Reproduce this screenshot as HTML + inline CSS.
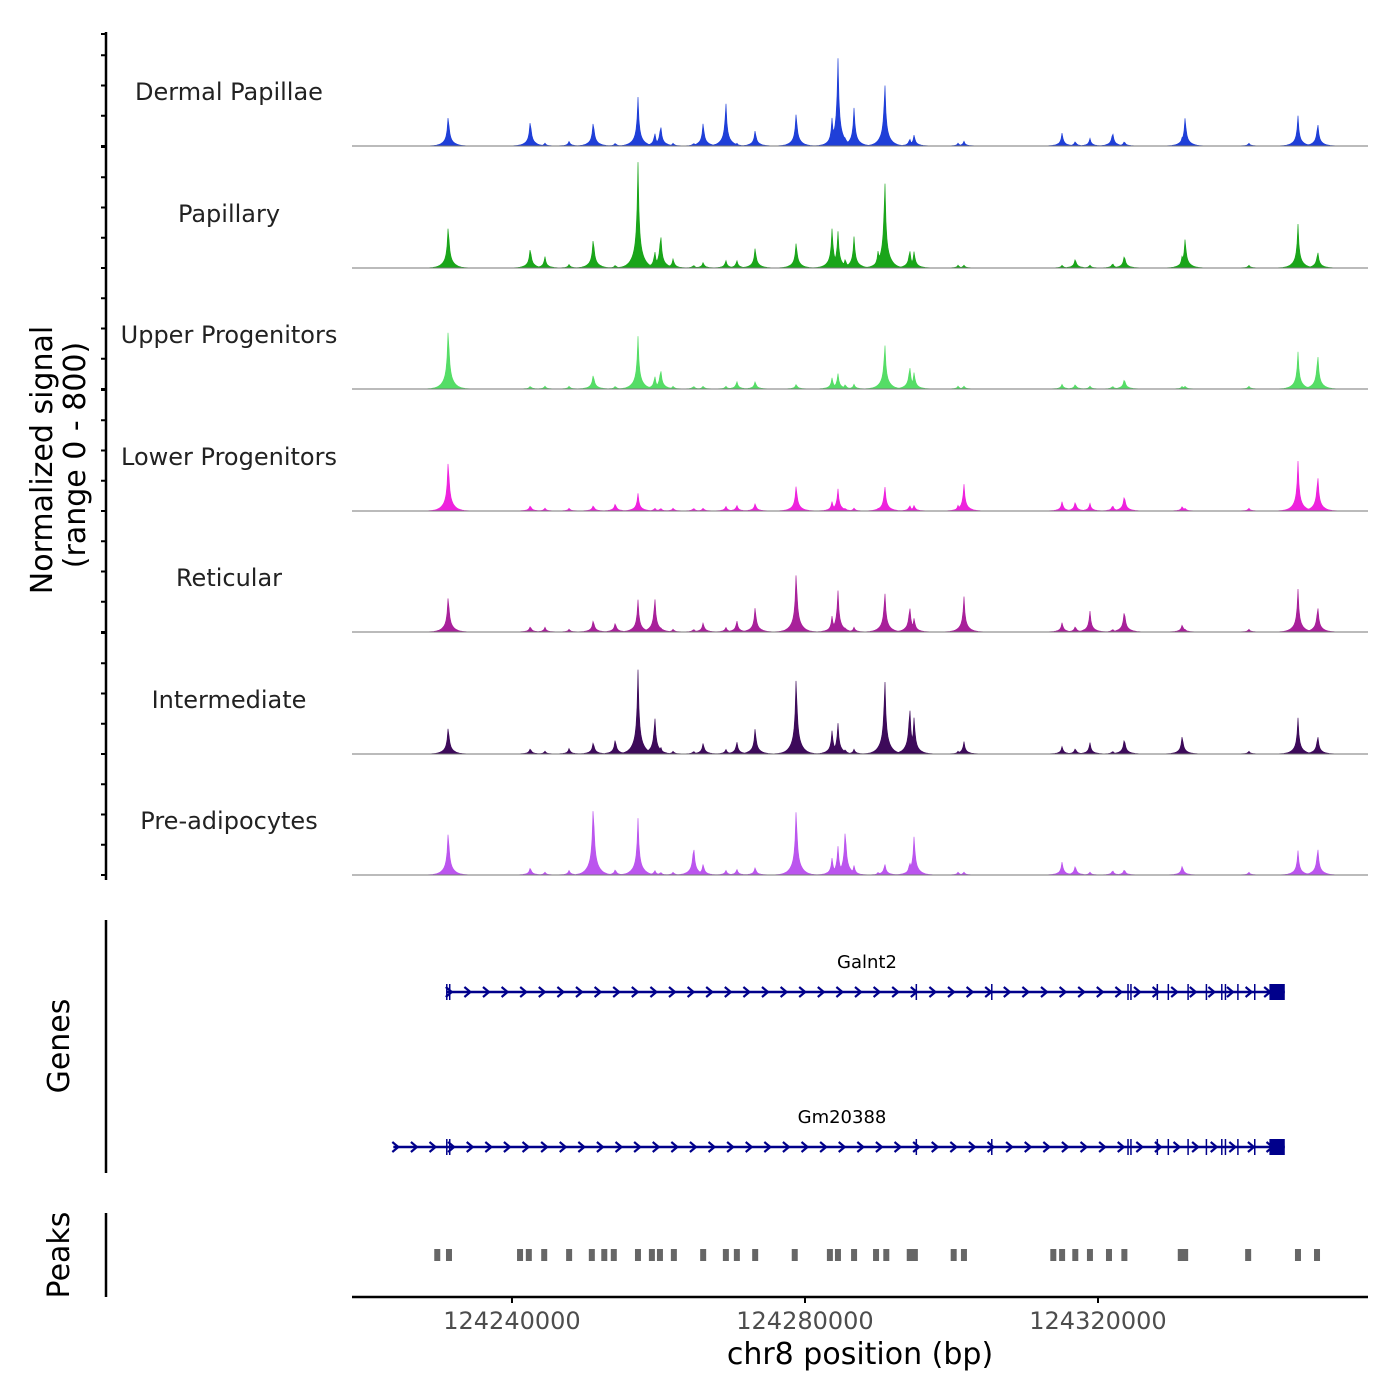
<!DOCTYPE html>
<html><head><meta charset="utf-8">
<style>
html,body{margin:0;padding:0;background:#fff;}
svg{display:block;font-family:"DejaVu Sans","Liberation Sans",sans-serif;}
</style></head>
<body>
<svg id="chart" width="1400" height="1400" viewBox="0 0 1400 1400" xmlns="http://www.w3.org/2000/svg">
<rect width="1400" height="1400" fill="#fff"/>
<g id="tracks"></g>
<g id="yaxis"></g>
<g id="genes"></g>
<g id="peaks"></g>
<g id="xaxis"></g>
<text transform="translate(52,460) rotate(-90)" text-anchor="middle" font-size="30" fill="#000">Normalized signal</text>
<text transform="translate(85,455) rotate(-90)" text-anchor="middle" font-size="30" fill="#000">(range 0 - 800)</text>
<text transform="translate(69,1046) rotate(-90)" text-anchor="middle" font-size="30" fill="#000">Genes</text>
<text transform="translate(69,1255) rotate(-90)" text-anchor="middle" font-size="30" fill="#000">Peaks</text>
<text x="860" y="1364" text-anchor="middle" font-size="30" fill="#000">chr8 position (bp)</text>
</svg>
<script>
// ---- data (positions in kb) ----
const trackNames = ["Dermal Papillae","Papillary","Upper Progenitors","Lower Progenitors","Reticular","Intermediate","Pre-adipocytes"];
const trackColors = ["#1f3fd8","#1aa51a","#55dd66","#ee22dd","#a8209a","#3d0a5a","#bb55ee"];
const peakPos = [124231.3,124242.5,124244.5,124247.8,124251.1,124254.1,124257.2,124259.5,124260.3,124262.0,124264.8,124266.1,124269.2,124270.7,124273.2,124278.8,124283.7,124284.5,124285.5,124286.7,124290.0,124290.9,124294.3,124294.9,124300.9,124301.7,124315.1,124316.9,124318.9,124322.0,124323.6,124331.5,124331.9,124340.6,124347.3,124350.0];
const sigDermal = [220,185,20,33,178,20,330,92,152,20,20,165,304,20,112,238,198,600,66,264,33,449,53,79,20,33,92,33,53,99,33,66,205,20,205,165];
const sigPapillary = [310,145,79,26,218,20,713,119,251,66,20,40,53,53,145,185,277,251,66,218,132,627,132,119,20,20,20,66,20,33,92,92,211,20,297,119];
const sigUpper = [442,20,20,20,106,20,356,92,145,20,20,20,20,53,53,33,79,106,33,33,33,323,165,119,20,20,33,33,20,20,73,20,20,20,251,251];
const sigLower = [370,40,20,20,40,53,119,20,20,20,20,20,33,40,53,185,66,152,20,20,20,178,40,40,40,185,66,66,53,40,112,33,20,20,337,257];
const sigReticular = [264,40,33,20,86,66,218,244,33,20,20,66,33,79,178,429,112,284,33,33,20,284,185,99,20,244,66,40,145,20,158,53,20,20,290,185];
const sigIntermediate = [198,40,20,40,86,106,568,264,53,20,20,79,33,86,185,554,165,211,33,33,20,535,343,264,20,86,53,40,79,20,112,132,20,20,244,132];
const sigPreadipo = [317,53,20,33,515,40,383,33,20,20,211,79,33,40,53,475,119,198,330,66,20,79,92,277,20,20,92,66,20,33,40,66,20,20,165,198];
const signals = [sigDermal,sigPapillary,sigUpper,sigLower,sigReticular,sigIntermediate,sigPreadipo];
const peakRegions = [124229.8,124231.4,124241.1,124242.3,124244.4,124247.8,124250.9,124252.6,124253.9,124257.2,124259.1,124260.2,124262.1,124266.1,124269.2,124270.7,124273.2,124278.6,124283.4,124284.5,124286.7,124289.7,124291.1,124294.3,124295.0,124300.3,124301.7,124313.9,124315.1,124316.9,124318.9,124321.5,124323.6,124331.3,124331.9,124340.5,124347.3,124349.9];
const geneNames = ["Galnt2","Gm20388"];
const geneStarts = [124231.1,124223.8];
const geneEnds = [124345.5,124345.5];
const exonPos = [124231.1,124231.5,124295.2,124305.5,124324.1,124324.5,124328.1,124329.6,124332.3,124334.8,124336.9,124337.4,124339.1,124341.4];
const xTicks = [124240,124280,124320];
const xTickLabels = ["124240000","124280000","124320000"];
const yTicks = [0,200,400,600,800];

// ---- scales ----
const NS="http://www.w3.org/2000/svg";
const X0=352,X1=1368,D0=124218.16,D1=124356.86;
const xs = v => X0+(v-D0)/(D1-D0)*(X1-X0);
const baselines=[146,268,389,511,632,754,875];
const TH=121;
const ys = (v,i) => baselines[i]-v/800*TH;
function el(tag,attrs,parent){const e=document.createElementNS(NS,tag);for(const k in attrs)e.setAttribute(k,attrs[k]);parent.appendChild(e);return e;}

// ---- tracks ----
const tg=document.getElementById('tracks');
trackNames.forEach((name,i)=>{
  const g=el('g',{},tg);
  
  
  const cols=[];
  for(let px=X0;px<=X1;px++){
    let h=0;
    peakPos.forEach((p,j)=>{
      const dx=Math.abs(px-xs(p));
      const f=0.62*Math.exp(-dx/1.0)+0.38*Math.exp(-dx/4.5);
      h=Math.max(h,signals[i][j]*f);
    });
    cols.push(h);
  }
  let d='M'+X0+','+baselines[i];
  cols.forEach((h,k)=>{d+='L'+(X0+k)+','+ys(h,i).toFixed(1);});
  d+='L'+X1+','+baselines[i]+'Z';
  const p=el('path',{d:d,fill:trackColors[i],stroke:trackColors[i],'stroke-width':0.6},g);
  
  
  const bl=el('line',{x1:X0,x2:X1,y1:baselines[i],y2:baselines[i],stroke:'#777','stroke-width':1},g);
  
  
  const t=el('text',{x:229,y:baselines[i]-46,'text-anchor':'middle','font-size':24,fill:'#222'},g);
  t.textContent=name;
  
  
});

// ---- y axis ----
const yg=document.getElementById('yaxis');
el('line',{x1:106,x2:106,y1:32,y2:880,stroke:'#000','stroke-width':2.5},yg);
baselines.forEach((b,i)=>{
  yTicks.forEach(v=>{
    const y=Math.max(ys(v,i),34);
    const tk=el('line',{x1:101,x2:106,y1:y,y2:y,stroke:'#000','stroke-width':2},yg);
    
    
  });
});

// ---- genes ----
const gg=document.getElementById('genes');
el('line',{x1:106,x2:106,y1:920,y2:1173,stroke:'#000','stroke-width':2.5},gg);
const geneY=[992,1147];
geneNames.forEach((n,i)=>{
  const g=el('g',{},gg);
  
  
  const y=geneY[i],c='#00008b';
  const a=xs(geneStarts[i]),b=xs(geneEnds[i]);
  el('line',{x1:a,x2:b,y1:y,y2:y,stroke:c,'stroke-width':2.5},g);
  for(let x=a+2;x<b-14;x+=18.6){
    el('path',{d:`M${x-3},${y-5}L${x+3},${y}L${x-3},${y+5}`,fill:'none',stroke:c,'stroke-width':2.2},g);
  }
  exonPos.forEach(e=>{const ex=xs(e);if(ex>=a-1)el('line',{x1:ex,x2:ex,y1:y-8,y2:y+8,stroke:c,'stroke-width':1.5},g);});
  el('rect',{x:xs(124343.4),y:y-8,width:b-xs(124343.4),height:16,fill:c},g);
  const t=el('text',{x:(i==0?867:842),y:y-24,'text-anchor':'middle','font-size':18,fill:'#000'},g);
  t.textContent=n;
  
  
});

// ---- peaks ----
const pg=document.getElementById('peaks');
el('line',{x1:106,x2:106,y1:1213,y2:1297,stroke:'#000','stroke-width':2.5},pg);
peakRegions.forEach(p=>{
  const r=el('rect',{x:xs(p)-3,y:1249,width:6,height:12,fill:'#666'},pg);
  
  
});

// ---- x axis ----
const xg=document.getElementById('xaxis');
el('line',{x1:X0,x2:X1,y1:1297,y2:1297,stroke:'#000','stroke-width':2.5},xg);
xTicks.forEach((v,i)=>{
  const tk=el('line',{x1:xs(v),x2:xs(v),y1:1297,y2:1303,stroke:'#000','stroke-width':2},xg);
  
  
  const t=el('text',{x:xs(v),y:1329,'text-anchor':'middle','font-size':24,fill:'#4d4d4d'},xg);
  t.textContent=xTickLabels[i];
  
  
});
</script>
</body></html>
